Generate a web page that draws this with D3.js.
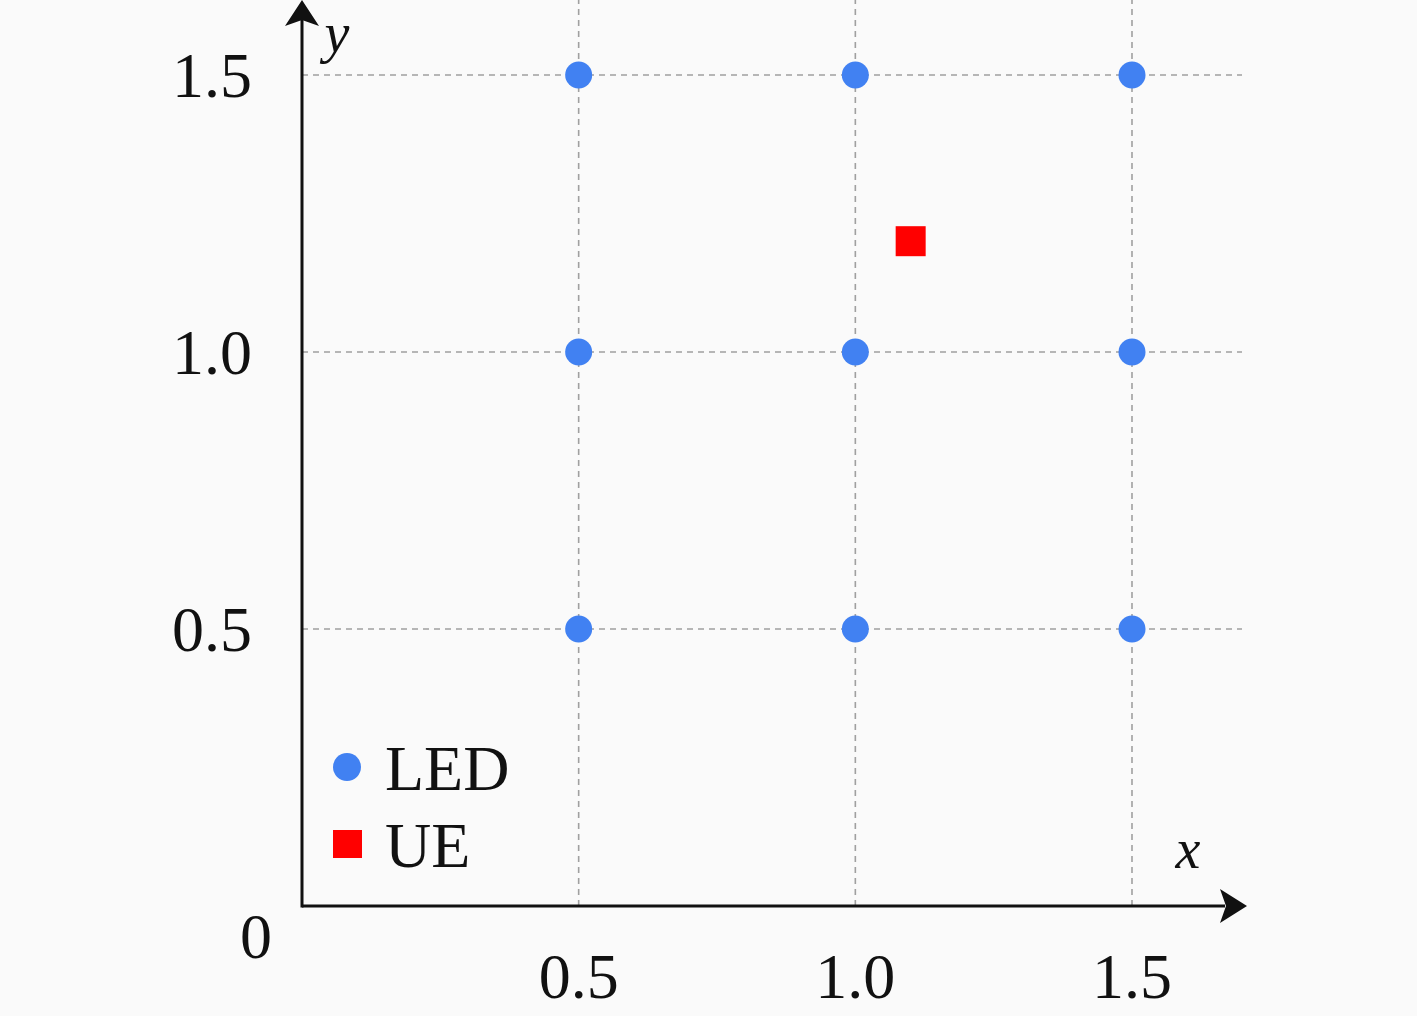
<!DOCTYPE html>
<html>
<head>
<meta charset="utf-8">
<script src="https://cdn.jsdelivr.net/npm/d3@7"></script>
<style>
  html, body { margin: 0; padding: 0; background: #fafafa; }
  svg { display: block; }
  text { font-family: "Liberation Serif", "DejaVu Serif", serif; fill: #111; }
</style>
</head>
<body>
<div id="root"></div>
<script>
// LED grid and the UE position (metres)
var ledX = [0.5, 1.0, 1.5, 0.5, 1.0, 1.5, 0.5, 1.0, 1.5];
var ledY = [1.5, 1.5, 1.5, 1.0, 1.0, 1.0, 0.5, 0.5, 0.5];
var ueX = [1.1];
var ueY = [1.2];
var xTicks = [0.5, 1.0, 1.5];
var yTicks = [0.5, 1.0, 1.5];
var legendNames = ["LED", "UE"];

var W = 1417, H = 1016;
var ox = 302, oy = 906;

var svg = d3.select("#root")
    .append("svg")
    .attr("width", W)
    .attr("height", H);

svg.append("rect").attr("width", W).attr("height", H).attr("fill", "#fafafa");

var x = d3.scaleLinear().domain([0, 1.5]).range([ox, ox + 830]);
var y = d3.scaleLinear().domain([0, 1.5]).range([oy, oy - 831]);

// dashed grid
var grid = svg.append("g")
    .attr("stroke", "#a0a0a0")
    .attr("stroke-width", 1.6)
    .attr("stroke-dasharray", "6,5");

grid.selectAll("line.v")
    .data(xTicks)
    .enter()
    .append("line")
    .attr("class", "v")
    .attr("x1", d => x(d)).attr("x2", d => x(d))
    .attr("y1", oy).attr("y2", 0);

grid.selectAll("line.h")
    .data(yTicks)
    .enter()
    .append("line")
    .attr("class", "h")
    .attr("y1", d => y(d)).attr("y2", d => y(d))
    .attr("x1", ox).attr("x2", 1242);

// axes with arrow heads
svg.append("line")
    .attr("x1", ox).attr("y1", oy).attr("x2", 1225).attr("y2", oy)
    .attr("stroke", "#111").attr("stroke-width", 3);
svg.append("line")
    .attr("x1", ox).attr("y1", oy + 1.5).attr("x2", ox).attr("y2", 20)
    .attr("stroke", "#111").attr("stroke-width", 3);

// stealth-like arrows
svg.append("path")
    .attr("d", "M1247," + oy + " L1220," + (oy - 17) + " L1226," + oy + " L1220," + (oy + 17) + "Z")
    .attr("fill", "#111");
svg.append("path")
    .attr("d", "M" + ox + ",0 L" + (ox - 17) + ",26 L" + ox + ",20 L" + (ox + 17) + ",26Z")
    .attr("fill", "#111");

// tick labels
svg.selectAll("text.xt")
    .data(xTicks)
    .enter()
    .append("text")
    .attr("class", "xt")
    .attr("x", d => x(d))
    .attr("y", 998)
    .attr("text-anchor", "middle")
    .attr("font-size", 64)
    .text(d => d.toFixed(1));

svg.selectAll("text.yt")
    .data(yTicks)
    .enter()
    .append("text")
    .attr("class", "yt")
    .attr("x", 252)
    .attr("y", d => y(d) + 22)
    .attr("text-anchor", "end")
    .attr("font-size", 64)
    .text(d => d.toFixed(1));

svg.append("text")
    .attr("x", 256).attr("y", 958)
    .attr("text-anchor", "middle")
    .attr("font-size", 64)
    .text("0");

// axis names
svg.append("text")
    .attr("x", 1188).attr("y", 868)
    .attr("text-anchor", "middle")
    .attr("font-size", 56)
    .attr("font-style", "italic")
    .text("x");
svg.append("text")
    .attr("x", 337).attr("y", 52)
    .attr("text-anchor", "middle")
    .attr("font-size", 56)
    .attr("font-style", "italic")
    .text("y");

// LEDs
svg.selectAll("circle.led")
    .data(ledX)
    .enter()
    .append("circle")
    .attr("class", "led")
    .attr("cx", d => x(d))
    .attr("cy", (d, i) => y(ledY[i]))
    .attr("r", 13.5)
    .attr("fill", "#4181f2");

// UE
svg.selectAll("rect.ue")
    .data(ueX)
    .enter()
    .append("rect")
    .attr("class", "ue")
    .attr("x", d => x(d) - 15)
    .attr("y", (d, i) => y(ueY[i]) - 15)
    .attr("width", 30)
    .attr("height", 30)
    .attr("fill", "#ff0000");

// legend
var leg = svg.append("g");
leg.append("circle").attr("cx", 347).attr("cy", 767).attr("r", 14).attr("fill", "#4181f2");
leg.append("rect").attr("x", 333).attr("y", 830).attr("width", 29).attr("height", 28).attr("fill", "#ff0000");
leg.selectAll("text")
    .data(legendNames)
    .enter()
    .append("text")
    .attr("x", 385)
    .attr("y", (d, i) => 790 + i * 77)
    .attr("font-size", 64)
    .text(d => d);
</script>
</body>
</html>
